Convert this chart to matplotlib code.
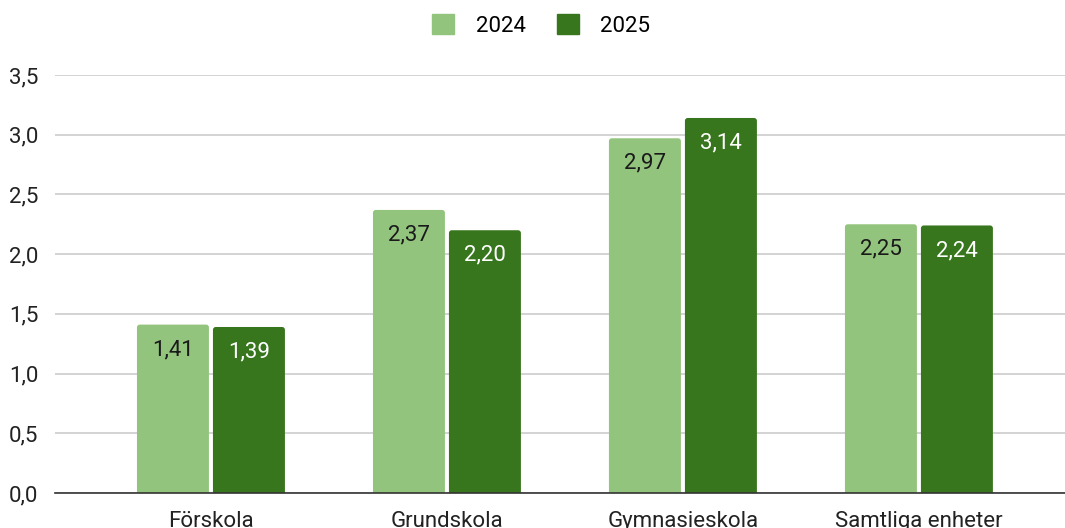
import numpy as np
import matplotlib.pyplot as plt
from matplotlib.patches import FancyBboxPatch, Patch

plt.rcParams['font.family'] = ['Roboto', 'DejaVu Sans']

categories = ['Förskola', 'Grundskola', 'Gymnasieskola', 'Samtliga enheter']
years = ['2024', '2025']
v2024 = [1.41, 2.37, 2.97, 2.25]
v2025 = [1.39, 2.20, 3.14, 2.24]
yticks = [0.0, 0.5, 1.0, 1.5, 2.0, 2.5, 3.0, 3.5]

light = '#93c47d'
dark = '#38761d'

fig = plt.figure(figsize=(10.65, 5.28), dpi=100)
ax = fig.add_axes([0.0516, 0.0663, 0.9484, 0.7917])
ax.set_xlim(-0.661, 3.619)
ax.set_ylim(0, 3.5)

x = np.arange(len(categories))
w = 0.305
off = 0.161
# pixels per data unit, for rounded corners
aspect = (1010 / 4.28) / (418 / 3.5)

def fmt(v):
    return f'{v:.2f}'.replace('.', ',')

for xs, vals, col, tcol in [(x - off, v2024, light, '#1a1a1a'), (x + off, v2025, dark, 'white')]:
    for xi, v in zip(xs, vals):
        p = FancyBboxPatch((xi - w / 2, -0.1), w, v + 0.1,
                           boxstyle='round,pad=0,rounding_size=0.012',
                           mutation_aspect=aspect, facecolor=col, edgecolor='none', zorder=3)
        ax.add_patch(p)
        ax.annotate(fmt(v), (xi, v), xytext=(0, -18), textcoords='offset points',
                    ha='center', va='center', fontsize=16, color=tcol, zorder=4)

ax.set_yticks(yticks)
ax.set_yticklabels([f'{t:.1f}'.replace('.', ',') for t in yticks], fontsize=16, color='#222222')
ax.set_xticks(x)
ax.set_xticklabels(categories, fontsize=16, color='#222222')
ax.tick_params(axis='both', length=0)
ax.tick_params(axis='y', pad=12)
ax.tick_params(axis='x', pad=13)
ax.grid(axis='y', color='#cccccc', linewidth=1.2, zorder=0)
for s in ['top', 'right', 'left']:
    ax.spines[s].set_visible(False)
ax.spines['bottom'].set_color('#333333')
ax.spines['bottom'].set_linewidth(1.2)
ax.spines['bottom'].set_zorder(5)

handles = [Patch(color=light), Patch(color=dark)]
fig.legend(handles=handles, labels=years, loc='center', bbox_to_anchor=(0.508, 0.952),
           ncol=2, frameon=False, fontsize=16, handlelength=1.0, handleheight=1.0,
           handletextpad=0.95, columnspacing=1.4)

plt.savefig('out.png', dpi=100)
